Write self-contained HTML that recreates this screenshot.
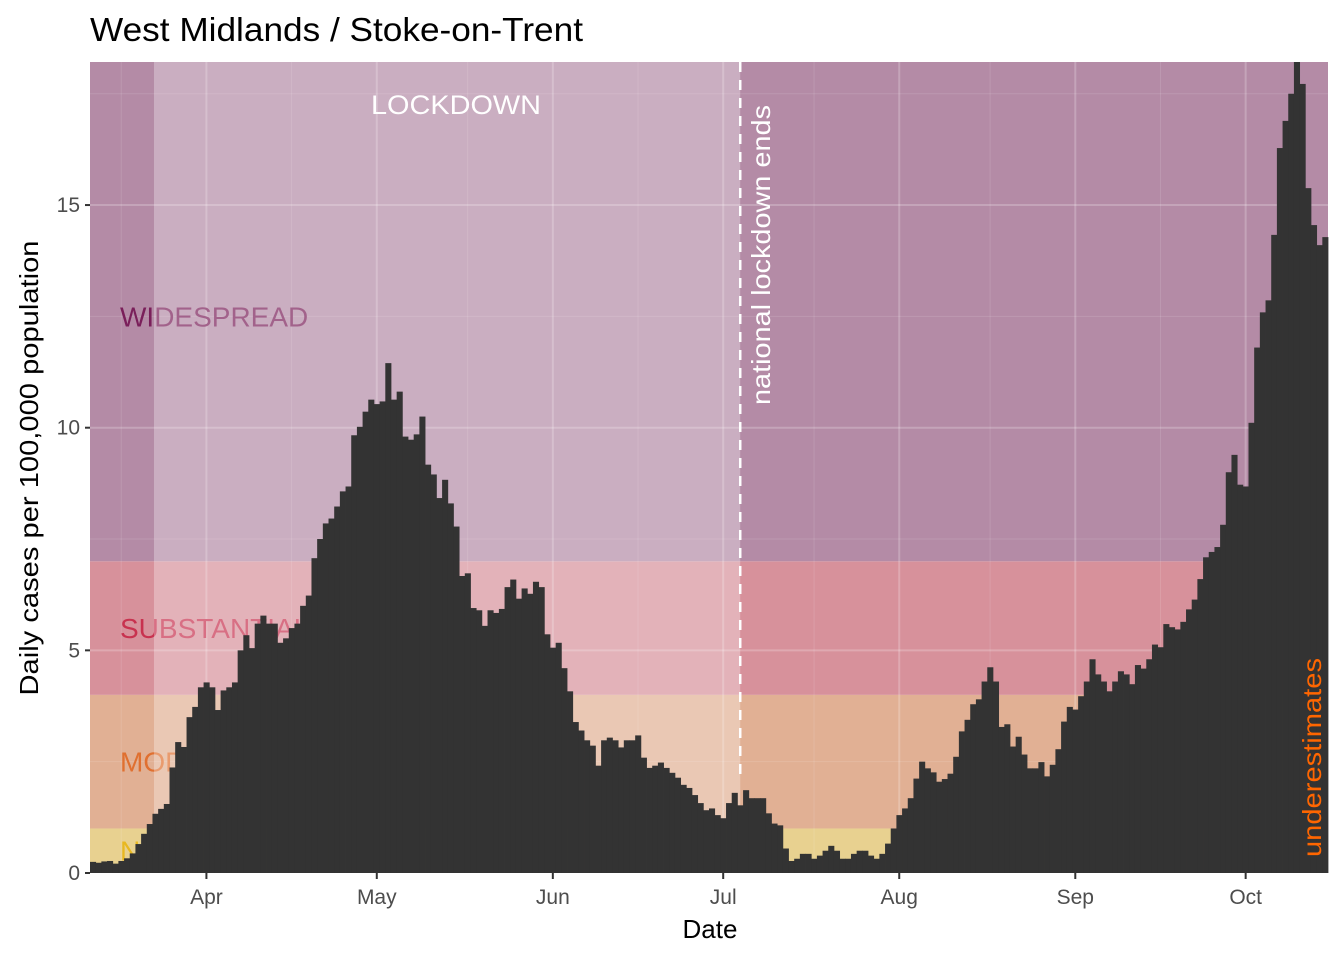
<!DOCTYPE html>
<html><head><meta charset="utf-8"><style>
html,body{margin:0;padding:0;background:#fff;}
svg{display:block;font-family:"Liberation Sans",Arial,sans-serif;}
</style></head><body>
<svg id="chart" width="1344" height="960" viewBox="0 0 1344 960" xmlns="http://www.w3.org/2000/svg">
<g id="bands"></g>
<g id="grid"></g>
<g id="bandlabels"></g>
<rect id="lockdown" fill="#ffffff" fill-opacity="0.3"/>
<g id="bars"></g>
<g id="annot"></g>
<g id="axes"></g>
<text x="90" y="41" font-size="33" textLength="493" lengthAdjust="spacingAndGlyphs" fill="#000">West Midlands / Stoke-on-Trent</text>
<text x="710" y="938" font-size="26" text-anchor="middle" fill="#000">Date</text>
<text transform="translate(38,468) rotate(-90)" font-size="26" text-anchor="middle" textLength="455" lengthAdjust="spacingAndGlyphs" fill="#000">Daily cases per 100,000 population</text>
</svg>
<script>
// Data: daily values starting 12 March, one per day
const startLabel = "2020-03-12";
const values = [0.25,0.23,0.26,0.27,0.21,0.27,0.33,0.44,0.65,0.88,1.1,1.33,1.44,1.55,2.37,2.94,2.83,3.5,3.73,4.17,
4.28,4.17,3.66,4.1,4.17,4.28,5.0,5.34,5.05,5.6,5.78,5.6,5.6,5.17,5.27,5.5,5.6,6.0,6.23,7.07,
7.5,7.85,7.96,8.23,8.57,8.68,9.83,10.02,10.36,10.63,10.53,10.59,11.45,10.63,10.81,9.8,9.73,9.85,10.25,9.17,
8.95,8.42,8.83,8.3,7.78,6.67,6.73,5.95,5.9,5.55,5.9,5.84,5.93,6.42,6.59,6.16,6.39,6.27,6.54,6.42,
5.36,5.06,5.17,4.6,4.08,3.39,3.2,2.98,2.86,2.41,2.98,3.04,2.98,2.82,2.98,2.98,3.09,2.59,2.36,2.41,
2.48,2.36,2.25,2.14,1.98,1.91,1.75,1.57,1.41,1.45,1.3,1.23,1.57,1.8,1.52,1.86,1.68,1.68,1.68,1.34,
1.11,1.07,0.55,0.27,0.32,0.43,0.43,0.32,0.39,0.5,0.61,0.5,0.32,0.32,0.43,0.5,0.5,0.39,0.32,0.43,
0.66,1.0,1.3,1.45,1.68,2.12,2.5,2.35,2.26,2.05,2.11,2.23,2.61,3.18,3.44,3.79,3.9,4.3,4.62,4.3,
3.28,3.34,2.84,3.06,2.66,2.35,2.35,2.49,2.17,2.43,2.78,3.4,3.73,3.67,3.97,4.3,4.8,4.46,4.3,4.08,
4.3,4.53,4.46,4.24,4.67,4.59,4.8,5.13,5.07,5.59,5.52,5.47,5.64,5.92,6.14,6.6,7.09,7.21,7.32,7.82,
9.0,9.39,8.72,8.68,10.11,11.8,12.59,12.86,14.33,16.28,16.89,17.5,18.4,17.72,15.38,14.55,14.1,14.28];
const bandEdges = [0,1,4,7,30];
const bandNames = ["NORMAL","MODERATE","SUBSTANTIAL","WIDESPREAD"];
const yTicks = [0,5,10,15];
const monthLabels = ["Apr","May","Jun","Jul","Aug","Sep","Oct"];
const monthDayIndex = [20,50,81,111,142,173,203];
const lockdownStartIdx = 11;
const lockdownEndIdx = 114;

const NS="http://www.w3.org/2000/svg";
const L=90,R=1328,T=62,B=873,nDays=218,PX=44.53;
const dw=(R-L)/nDays;
const yMax=(B-T)/PX;
function xs(i){return L+i*dw;}
function xc(i){return L+(i+0.5)*dw;}
function ys(v){return B-v*PX;}
function mk(tag,attrs,parent){const e=document.createElementNS(NS,tag);for(const k in attrs)e.setAttribute(k,attrs[k]);parent.appendChild(e);return e;}

const bandColors=["#e8d190","#e1b094","#d7919b","#b48ba6"];
const labelColors=["#e8b820","#e07030","#c8324f","#7a1f5a"];
const gB=document.getElementById('bands');
for(let b=0;b<4;b++){
  const y1=ys(Math.min(bandEdges[b+1],yMax)),y0=ys(bandEdges[b]);
  const r=mk('rect',{x:L,y:y1,width:R-L,height:y0-y1,fill:bandColors[b]},gB);
  
  
}
const gG=document.getElementById('grid');
for(let v=0;v<=yMax;v+=2.5){
  const l=mk('line',{x1:L,x2:R,y1:ys(v),y2:ys(v),stroke:'#ffffff','stroke-opacity':(v%5===0)?0.22:0.12,'stroke-width':(v%5===0)?2:1},gG);
  
  
}
for(let m=0;m<monthDayIndex.length;m++){
  const x=xc(monthDayIndex[m]);
  const l=mk('line',{x1:x,x2:x,y1:T,y2:B,stroke:'#ffffff','stroke-opacity':0.22,'stroke-width':2},gG);
  
  
  const xm=x-15*dw;
  if(xm>L){
    const l2=mk('line',{x1:xm,x2:xm,y1:T,y2:B,stroke:'#ffffff','stroke-opacity':0.12,'stroke-width':1},gG);
    
    
  }
}
const gL=document.getElementById('bandlabels');
const labY=[ys(0.5)+10,ys(2.5)+10,ys(5.5)+10,ys(12.5)+10];
for(let b=0;b<4;b++){
  const t=mk('text',{x:120,y:labY[b],'font-size':28,fill:labelColors[b]},gL);
  t.textContent=bandNames[b];
  
  
}
const ld=document.getElementById('lockdown');
ld.setAttribute('x',xs(lockdownStartIdx)+1.5);ld.setAttribute('y',T);
ld.setAttribute('width',xc(lockdownEndIdx)-xs(lockdownStartIdx)-1.5);ld.setAttribute('height',B-T);

const gBar=document.getElementById('bars');
for(let i=0;i<values.length;i++){
  const v=Math.min(values[i],yMax);
  const r=mk('rect',{x:xs(i),y:ys(v),width:dw+0.4,height:B-ys(v),fill:'#333333'},gBar);
  
  
}
const gA=document.getElementById('annot');
const lx=xc(lockdownEndIdx);
const dl=mk('line',{x1:lx,x2:lx,y1:T,y2:B-95,stroke:'#ffffff','stroke-width':2.5,'stroke-dasharray':'10,8'},gA);


const t1=mk('text',{x:456,y:114,'font-size':27,fill:'#ffffff','text-anchor':'middle',textLength:170,lengthAdjust:'spacingAndGlyphs'},gA);
t1.textContent='LOCKDOWN';


const t2=mk('text',{transform:'translate('+(lx+30)+',405) rotate(-90)','font-size':26,fill:'#ffffff',textLength:300,lengthAdjust:'spacingAndGlyphs'},gA);
t2.textContent='national lockdown ends';


const t3=mk('text',{transform:'translate(1321,857) rotate(-90)','font-size':26,fill:'#ff6600',textLength:199,lengthAdjust:'spacingAndGlyphs'},gA);
t3.textContent='underestimates';



const gX=document.getElementById('axes');
for(const v of yTicks){
  const tk=mk('line',{x1:L-5,x2:L,y1:ys(v),y2:ys(v),stroke:'#333','stroke-width':2},gX);
  
  
  const t=mk('text',{x:L-10,y:ys(v)+7,'font-size':21,fill:'#4d4d4d','text-anchor':'end'},gX);
  t.textContent=v;
  
  
}
for(let m=0;m<monthLabels.length;m++){
  const x=xc(monthDayIndex[m]);
  const tk=mk('line',{x1:x,x2:x,y1:B,y2:B+6,stroke:'#333','stroke-width':2},gX);
  
  
  const t=mk('text',{x:x,y:B+31,'font-size':21,fill:'#4d4d4d','text-anchor':'middle'},gX);
  t.textContent=monthLabels[m];
  
  
}
</script>
</body></html>
